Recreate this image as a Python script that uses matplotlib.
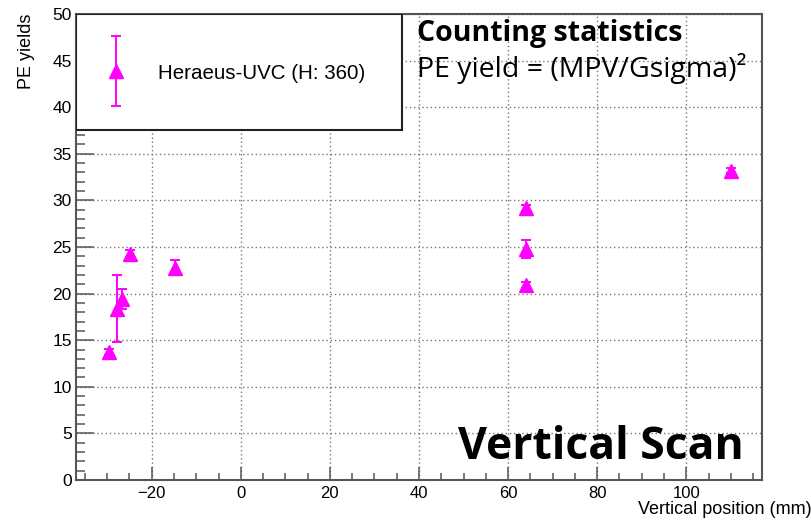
import matplotlib
matplotlib.use("Agg")
import matplotlib.pyplot as plt
import numpy as np
from matplotlib.container import ErrorbarContainer
from matplotlib.legend_handler import HandlerErrorbar
from matplotlib.patches import Rectangle
from matplotlib.ticker import MultipleLocator

plt.rcParams["font.family"] = ["Liberation Sans", "DejaVu Sans"]

# ── Datos ──────────────────────────────────────────────────────────────────
posicion = [-29.6, -27.8, -26.6, -24.8, -14.8, 64.0, 64.0, 64.0, 110.0]
pe_yield = [13.75, 18.4, 19.4, 24.3, 22.8, 29.2, 24.8, 20.9, 33.2]
pe_error = [0.3, 3.6, 1.1, 0.4, 0.8, 0.3, 1.0, 0.3, 0.3]

MAGENTA = "#FF00FF"
GRIS = "#555555"
FUENTE_TEXTO = "Open Sans"

fig = plt.figure(figsize=(8.12, 5.21), dpi=100)
fig.patch.set_facecolor("white")
ax = fig.add_axes([76 / 812, 1 - 480 / 521, 686 / 812, 466 / 521])

eb = ax.errorbar(posicion, pe_yield, yerr=pe_error, fmt="^", color=MAGENTA,
                 markersize=10, elinewidth=1.4, capsize=3.5, capthick=1.4,
                 label="Heraeus-UVC (H: 360)", zorder=3)

ax.set_xlim(-37, 117)
ax.set_ylim(0, 50)

# ── Ejes estilo ROOT ───────────────────────────────────────────────────────
ax.xaxis.set_major_locator(MultipleLocator(20))
ax.xaxis.set_minor_locator(MultipleLocator(5))
ax.yaxis.set_major_locator(MultipleLocator(5))
ax.yaxis.set_minor_locator(MultipleLocator(1))
ax.tick_params(axis="x", which="major", direction="in", length=9.5, width=1.1,
               color=GRIS, pad=4.3, labelsize=12)
ax.tick_params(axis="x", which="minor", direction="in", length=4.7, width=1.1,
               color=GRIS)
ax.tick_params(axis="y", which="major", direction="in", length=13, width=1.1,
               color=GRIS, pad=3, labelsize=12.5)
ax.tick_params(axis="y", which="minor", direction="in", length=6.5, width=1.1,
               color=GRIS)

for s in ax.spines.values():
    s.set_color(GRIS)
    s.set_linewidth(1.5)

ax.grid(True, which="major", color="#777777", linestyle=(0, (1, 2)), linewidth=1.0)
ax.set_axisbelow(True)

ax.set_ylabel("PE yields", fontsize=13)
ax.yaxis.set_label_coords(-0.060, 1.0)
ax.yaxis.label.set_horizontalalignment("right")
ax.set_xlabel("Vertical position (mm)", fontsize=13)
ax.xaxis.set_label_coords(1.073, -0.046)
ax.xaxis.label.set_horizontalalignment("right")
ax.xaxis.label.set_verticalalignment("top")

# ── Leyenda ────────────────────────────────────────────────────────────────
ax.add_patch(Rectangle((0, 1 - 116 / 466), 326 / 686, 116 / 466,
                       transform=ax.transAxes, facecolor="white",
                       edgecolor="#222222", linewidth=1.5, zorder=4))
leg = ax.legend(handles=[eb], loc="center left",
                bbox_to_anchor=(0.0, 1 - 59 / 466), frameon=False,
                borderpad=0, borderaxespad=0, handlelength=3.9,
                handletextpad=0.1, prop={"size": 14.8},
                handler_map={ErrorbarContainer: HandlerErrorbar(xerr_size=0, yerr_size=1.7)})
leg.set_zorder(5)

# ── Textos ─────────────────────────────────────────────────────────────────
fig.text(417 / 812, 1 - 40.5 / 521, "Counting statistics", fontsize=20.5,
         fontweight="bold", fontfamily=FUENTE_TEXTO, ha="left", va="baseline")
fig.text(417 / 812, 1 - 77.5 / 521, "PE yield = (MPV/Gsigma)²", fontsize=20.5,
         fontfamily=FUENTE_TEXTO, ha="left", va="baseline")
fig.text(458 / 812, 1 - 459 / 521, "Vertical Scan", fontsize=32,
         fontweight="bold", fontfamily=FUENTE_TEXTO, ha="left", va="baseline")

plt.savefig("out.png", dpi=100)
print("Guardado: out.png")
